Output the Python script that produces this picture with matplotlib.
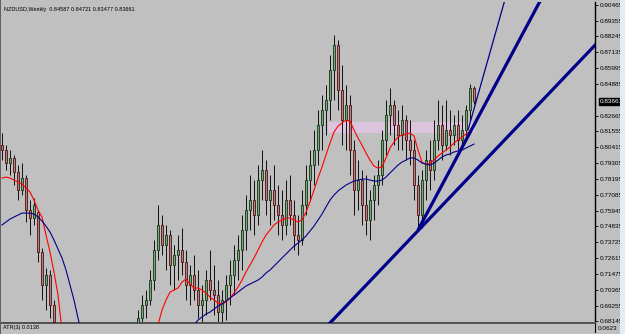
import numpy as np
import matplotlib
matplotlib.use("Agg")
import matplotlib.pyplot as plt
from matplotlib.patches import Rectangle

# NZDUSD weekly bars, oldest first (bars 14-33 sit below the visible range)
opens = [0.8058, 0.8023, 0.7931, 0.7967, 0.7868, 0.7741, 0.7825, 0.7599, 0.7543, 0.7585,
         0.7303, 0.7070, 0.7141, 0.6929, 0.6780, 0.6650, 0.6520, 0.6380, 0.6290, 0.6150,
         0.6080, 0.6120, 0.6010, 0.5950, 0.6060, 0.6180, 0.6240, 0.6330, 0.6400, 0.6470,
         0.6520, 0.6590, 0.6640, 0.6690, 0.6752, 0.6837, 0.6929, 0.6964, 0.7105, 0.7317,
         0.7494, 0.7352, 0.7423, 0.7211, 0.7282, 0.7317, 0.7232, 0.7070, 0.7141, 0.7035,
         0.6929, 0.6964, 0.7105, 0.7035, 0.6999, 0.6879, 0.6964, 0.7070, 0.7141, 0.7246,
         0.7317, 0.7458, 0.7599, 0.7670, 0.7564, 0.7811, 0.7882, 0.7670, 0.7741, 0.7635,
         0.7564, 0.7494, 0.7670, 0.7564, 0.7423, 0.7388, 0.7635, 0.7811, 0.7917, 0.8023,
         0.8200, 0.8305, 0.8376, 0.8588, 0.8764, 0.8447, 0.8235, 0.8341, 0.8023, 0.7741,
         0.7811, 0.7635, 0.7529, 0.7670, 0.7776, 0.7847, 0.8094, 0.8270, 0.8341, 0.8200,
         0.8129, 0.8235, 0.8094, 0.8023, 0.7776, 0.7564, 0.7811, 0.7952, 0.7882, 0.8094,
         0.8200, 0.8058, 0.8164, 0.8129, 0.8200, 0.8094, 0.8164, 0.8305, 0.84587]
highs = [0.8143, 0.8058, 0.8023, 0.7988, 0.7917, 0.7931, 0.7847, 0.7670, 0.7684, 0.7599,
         0.7331, 0.7190, 0.7176, 0.6964, 0.6795, 0.6700, 0.6560, 0.6450, 0.6330, 0.6200,
         0.6180, 0.6160, 0.6050, 0.6100, 0.6210, 0.6290, 0.6370, 0.6450, 0.6510, 0.6570,
         0.6630, 0.6690, 0.6740, 0.6780, 0.6893, 0.6999, 0.7035, 0.7176, 0.7388, 0.7635,
         0.7564, 0.7494, 0.7458, 0.7352, 0.7423, 0.7472, 0.7317, 0.7211, 0.7282, 0.7176,
         0.7070, 0.7176, 0.7317, 0.7211, 0.7105, 0.7035, 0.7141, 0.7246, 0.7352, 0.7423,
         0.7564, 0.7705, 0.7847, 0.7811, 0.7917, 0.8023, 0.7952, 0.7847, 0.7917, 0.7776,
         0.7741, 0.7811, 0.7847, 0.7670, 0.7564, 0.7741, 0.7917, 0.8023, 0.8164, 0.8305,
         0.8411, 0.8482, 0.8694, 0.8835, 0.8800, 0.8623, 0.8482, 0.8411, 0.8094, 0.7952,
         0.7882, 0.7847, 0.7741, 0.7847, 0.7952, 0.8164, 0.8376, 0.8461, 0.8376, 0.8305,
         0.8341, 0.8270, 0.8235, 0.8094, 0.7847, 0.7882, 0.8023, 0.8094, 0.8235, 0.8376,
         0.8341, 0.8376, 0.8305, 0.8270, 0.8305, 0.8270, 0.8341, 0.8490, 0.84721]
lows = [0.7952, 0.7882, 0.7847, 0.7776, 0.7670, 0.7705, 0.7515, 0.7423, 0.7494, 0.7232,
        0.6964, 0.6893, 0.6837, 0.6717, 0.6610, 0.6480, 0.6330, 0.6240, 0.6100, 0.6030,
        0.6040, 0.5960, 0.5900, 0.5920, 0.6020, 0.6130, 0.6200, 0.6280, 0.6350, 0.6420,
        0.6480, 0.6540, 0.6590, 0.6650, 0.6717, 0.6788, 0.6837, 0.6929, 0.7035, 0.7246,
        0.7282, 0.7176, 0.7070, 0.7035, 0.7105, 0.7141, 0.6964, 0.6929, 0.6964, 0.6837,
        0.6788, 0.6858, 0.6964, 0.6858, 0.6788, 0.6752, 0.6823, 0.6929, 0.6999, 0.7105,
        0.7176, 0.7317, 0.7458, 0.7423, 0.7494, 0.7670, 0.7564, 0.7494, 0.7529, 0.7423,
        0.7388, 0.7423, 0.7494, 0.7317, 0.7282, 0.7352, 0.7564, 0.7670, 0.7776, 0.7917,
        0.8023, 0.8129, 0.8235, 0.8376, 0.8305, 0.8058, 0.8023, 0.7847, 0.7564, 0.7599,
        0.7494, 0.7423, 0.7388, 0.7529, 0.7635, 0.7776, 0.7988, 0.8129, 0.8058, 0.8023,
        0.8023, 0.7952, 0.7917, 0.7670, 0.7458, 0.7472, 0.7670, 0.7741, 0.7811, 0.8023,
        0.7952, 0.8023, 0.7988, 0.8058, 0.8023, 0.8058, 0.8094, 0.8235, 0.83477]
closes = [0.8023, 0.7931, 0.7967, 0.7868, 0.7741, 0.7825, 0.7599, 0.7543, 0.7635, 0.7303,
          0.7070, 0.7141, 0.6929, 0.6809, 0.6650, 0.6520, 0.6380, 0.6290, 0.6150, 0.6080,
          0.6120, 0.6010, 0.5950, 0.6060, 0.6180, 0.6240, 0.6330, 0.6400, 0.6470, 0.6520,
          0.6590, 0.6640, 0.6690, 0.6720, 0.6837, 0.6929, 0.6964, 0.7105, 0.7317, 0.7494,
          0.7352, 0.7423, 0.7211, 0.7282, 0.7317, 0.7232, 0.7070, 0.7141, 0.7035, 0.6929,
          0.6964, 0.7105, 0.7035, 0.6999, 0.6879, 0.6964, 0.7070, 0.7141, 0.7246, 0.7317,
          0.7458, 0.7599, 0.7670, 0.7564, 0.7811, 0.7882, 0.7670, 0.7741, 0.7635, 0.7564,
          0.7494, 0.7670, 0.7564, 0.7423, 0.7388, 0.7635, 0.7811, 0.7917, 0.8023, 0.8200,
          0.8305, 0.8376, 0.8588, 0.8764, 0.8447, 0.8235, 0.8341, 0.8023, 0.7741, 0.7811,
          0.7635, 0.7529, 0.7670, 0.7776, 0.7847, 0.8094, 0.8270, 0.8341, 0.8200, 0.8129,
          0.8235, 0.8094, 0.8023, 0.7776, 0.7564, 0.7811, 0.7952, 0.7882, 0.8094, 0.8200,
          0.8058, 0.8164, 0.8129, 0.8200, 0.8094, 0.8164, 0.8305, 0.8459, 0.83661]

nan = float("nan")
# fast (red) and slow (blue) moving averages as shown on the chart
ma_fast = [0.7825, 0.7832, 0.7825, 0.7811, 0.7797, 0.7783, 0.7755, 0.7727, 0.7670, 0.7599,
           0.7550, 0.7423, 0.7303, 0.7162, 0.6999, 0.6752, 0.6600] + [nan] * 21 + [
           0.6680, 0.6788, 0.6893, 0.6964, 0.7020, 0.7035, 0.7049, 0.7091, 0.7112, 0.7077,
           0.7049, 0.7049, 0.7035, 0.7013, 0.6985, 0.6964, 0.6943, 0.6936, 0.6950, 0.6978,
           0.7013, 0.7056, 0.7105, 0.7162, 0.7211, 0.7261, 0.7317, 0.7373, 0.7423, 0.7458,
           0.7494, 0.7515, 0.7529, 0.7543, 0.7543, 0.7529, 0.7515, 0.7529, 0.7585, 0.7656,
           0.7741, 0.7825, 0.7903, 0.7988, 0.8072, 0.8150, 0.8192, 0.8214, 0.8235, 0.8228,
           0.8164, 0.8108, 0.8058, 0.8002, 0.7952, 0.7910, 0.7896, 0.7903, 0.7967, 0.8037,
           0.8079, 0.8115, 0.8129, 0.8136, 0.8143, 0.8122, 0.8023, 0.7938, 0.7917, 0.7931,
           0.7952, 0.7981, 0.8002, 0.8023, 0.8044, 0.8072, 0.8094, 0.8115, 0.8136, 0.8157,
           0.8200]
ma_slow = [0.7494, 0.7515, 0.7536, 0.7550, 0.7564, 0.7578, 0.7578, 0.7578, 0.7571, 0.7550,
           0.7522, 0.7486, 0.7444, 0.7388, 0.7324, 0.7261, 0.7176, 0.7070, 0.6964, 0.6837,
           0.6717] + [nan] * 26 + [
           0.6717, 0.6788, 0.6823, 0.6844, 0.6865, 0.6879, 0.6900, 0.6922, 0.6936, 0.6957,
           0.6978, 0.6999, 0.7020, 0.7042, 0.7063, 0.7077, 0.7091, 0.7105, 0.7126, 0.7155,
           0.7176, 0.7204, 0.7232, 0.7261, 0.7289, 0.7317, 0.7345, 0.7366, 0.7388, 0.7416,
           0.7451, 0.7486, 0.7529, 0.7571, 0.7621, 0.7670, 0.7705, 0.7734, 0.7755, 0.7776,
           0.7790, 0.7804, 0.7811, 0.7818, 0.7818, 0.7811, 0.7804, 0.7804, 0.7811, 0.7832,
           0.7861, 0.7889, 0.7917, 0.7938, 0.7952, 0.7967, 0.7967, 0.7952, 0.7931, 0.7924,
           0.7917, 0.7931, 0.7952, 0.7974, 0.7988, 0.7995, 0.8009, 0.8016, 0.8023, 0.8037,
           0.8051, 0.8065]

# drawn trend rays: start (bar, price), second point (bar, price), width
trend_lines = [((60.0, 0.6151), (148.75, 0.8778), 2.3),
               ((104.0, 0.7458), (134.0, 0.9047), 2.3),
               ((116.5, 0.8164), (125.5, 0.9061), 0.9)]
zone_bars = (81.5, 118.3)
zone_prices = (0.8143, 0.8221)

price_ticks = [0.90465, 0.89355, 0.88245, 0.87135, 0.85995, 0.84885, 0.82665, 0.81555,
               0.80415, 0.79305, 0.78195, 0.77085, 0.75945, 0.74835, 0.73725, 0.72615,
               0.71475, 0.70365, 0.69255, 0.68145]
header = "NZDUSD,Weekly  0.84587 0.84721 0.83477 0.83661"
atr_text = "ATR(3) 0.0138"
atr_scale = "0.0623"

BG = "#c0c0c0"
W, H = 625, 334
fig = plt.figure(figsize=(W / 100, H / 100), dpi=100, facecolor=BG)
plt.rcParams["font.family"] = ["Liberation Sans", "DejaVu Sans"]

def frac(x0, y0, x1, y1):
    return [x0 / W, 1 - y1 / H, (x1 - x0) / W, (y1 - y0) / H]

ax = fig.add_axes(frac(1, 2, 595, 323), facecolor=BG)
ax.set_xlim(-0.25, 148.25)
ax.set_ylim(0.6802, 0.9068)

n = len(closes)
idx = np.arange(n)
o = np.array(opens); c = np.array(closes)
up = c >= o

ax.add_patch(Rectangle((zone_bars[0], zone_prices[0]), zone_bars[1] - zone_bars[0],
                       zone_prices[1] - zone_prices[0], facecolor="#dcc4dc",
                       edgecolor="none", zorder=1))

ax.vlines(idx, lows, highs, color="#101010", lw=0.7, zorder=2)
body_lo = np.minimum(o, c)
body_h = np.maximum(np.abs(c - o), 0.0004)
ax.bar(idx[up], body_h[up], bottom=body_lo[up], width=0.6, color="#8c9a8c",
       edgecolor="#0a3a0a", lw=0.6, zorder=3)
ax.bar(idx[~up], body_h[~up], bottom=body_lo[~up], width=0.6, color="#9a8c8c",
       edgecolor="#5a0a0a", lw=0.6, zorder=3)

ax.plot(idx, ma_fast, color="#ff0000", lw=0.8, zorder=4)
ax.plot(idx, ma_slow, color="#00008b", lw=0.8, zorder=4)

# rays: from the start point, extended to the right only
for (b0, p0), (b1, p1), lw in trend_lines:
    slope = (p1 - p0) / (b1 - b0)
    b_end = 200.0
    ax.plot([b0, b_end], [p0, p0 + slope * (b_end - b0)], color="#00008b", lw=lw,
            zorder=5, solid_capstyle="butt")

ax.yaxis.tick_right()
ax.set_yticks(price_ticks)
ax.set_yticklabels([f"{v:.5f}" for v in price_ticks])
ax.tick_params(axis="y", direction="out", length=2.5, width=0.6, pad=1.2,
               labelsize=4.6, colors="black")
ax.set_xticks([])
for side in ("top", "left"):
    ax.spines[side].set_visible(False)
ax.spines["right"].set_color("black")
ax.spines["right"].set_linewidth(1.0)
ax.spines["bottom"].set_color("#505050")
ax.spines["bottom"].set_linewidth(1.4)

ax.text(0.005, 0.985, header, transform=ax.transAxes, fontsize=4.0, va="top", ha="left")

# current price tag
ax.annotate(f"{closes[-1]:.5f}", xy=(1.0, closes[-1]), xycoords=("axes fraction", "data"),
            xytext=(3.5, 0), textcoords="offset points", fontsize=4.6, color="white",
            va="center", ha="left",
            bbox=dict(boxstyle="square,pad=0.15", fc="black", ec="black"))

# ATR sub-window
ax2 = fig.add_axes(frac(1, 324, 595, 332), facecolor=BG)
ax2.set_xticks([]); ax2.set_yticks([])
for side in ("top", "left", "bottom"):
    ax2.spines[side].set_visible(False)
ax2.spines["right"].set_color("black")
ax2.text(0.004, 0.5, atr_text, transform=ax2.transAxes, fontsize=4.0, va="center")
ax2.text(1.005, 0.5, atr_scale, transform=ax2.transAxes, fontsize=4.6, va="center")

# window frame
fig.patches.append(Rectangle((620 / W, 0), 5 / W, 1, transform=fig.transFigure,
                             facecolor="#e4ecf4", edgecolor="none"))
fig.patches.append(Rectangle((0, 0), 1 / W, 1, transform=fig.transFigure,
                             facecolor="#606060", edgecolor="none"))

fig.savefig("out.png", dpi=100, facecolor=BG)
